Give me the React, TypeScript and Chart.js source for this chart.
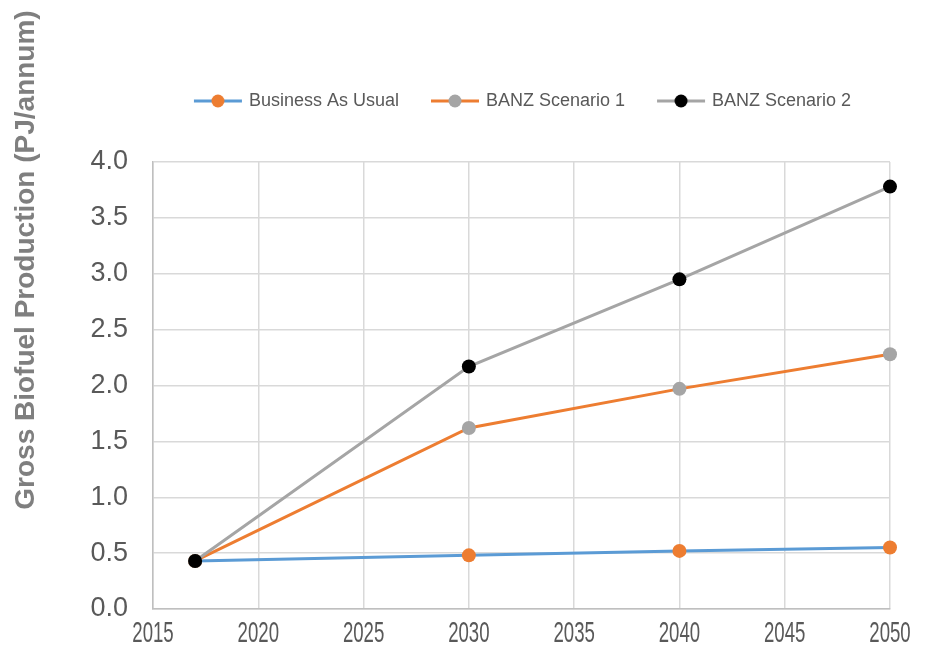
import React, { useEffect, useRef } from "react";
import { Chart, registerables } from "chart.js";

Chart.register(...registerables);

const years = [2017, 2030, 2040, 2050];
const bau = [0.43, 0.48, 0.52, 0.55];
const banz1 = [0.43, 1.62, 1.97, 2.28];
const banz2 = [0.43, 2.17, 2.95, 3.78];
const seriesNames = ["Business As Usual", "BANZ Scenario 1", "BANZ Scenario 2"];
const lineColors = ["#5B9BD5", "#ED7D31", "#A5A5A5"];
const markerColors = ["#ED7D31", "#A5A5A5", "#000000"];
const yTitle = "Gross Biofuel Production (PJ/annum)";

function legendIcon(line: string, marker: string) {
  const c = document.createElement("canvas");
  c.width = 60;
  c.height = 14;
  const ctx = c.getContext("2d")!;
  ctx.strokeStyle = line;
  ctx.lineWidth = 3;
  ctx.beginPath();
  ctx.moveTo(8, 7);
  ctx.lineTo(56, 7);
  ctx.stroke();
  ctx.fillStyle = marker;
  ctx.beginPath();
  ctx.arc(32, 7, 6.5, 0, Math.PI * 2);
  ctx.fill();
  return c;
}

const textPlugin = {
  id: "textPlugin",
  afterDraw(chart: any) {
    const ctx = chart.ctx;
    // y-axis title
    ctx.save();
    ctx.translate(26, 260);
    ctx.rotate(-Math.PI / 2);
    ctx.font = "bold 28px 'Liberation Sans', Arial, sans-serif";
    ctx.fillStyle = "#7F7F7F";
    ctx.textAlign = "center";
    ctx.textBaseline = "middle";
    ctx.fillText(yTitle, 0, 0);
    ctx.restore();
    // x tick labels (condensed, as in the reference)
    const xs = chart.scales.x;
    ctx.save();
    ctx.font = "30px 'Liberation Sans', Arial, sans-serif";
    ctx.fillStyle = "#595959";
    ctx.textAlign = "center";
    ctx.textBaseline = "middle";
    xs.ticks.forEach((t: any) => {
      const px = xs.getPixelForValue(t.value);
      ctx.save();
      ctx.translate(px, xs.top + 25);
      ctx.scale(0.62, 1);
      ctx.fillText(String(t.value), 0, 0);
      ctx.restore();
    });
    ctx.restore();
  },
};

export default function App() {
  const ref = useRef<HTMLCanvasElement>(null);
  useEffect(() => {
    document.body.style.margin = "0";
    const all = [bau, banz1, banz2];
    const icons = seriesNames.map((_, i) => legendIcon(lineColors[i], markerColors[i]));
    const chart = new Chart(ref.current!, {
      type: "line",
      data: {
        datasets: all.map((vals, i) => ({
          label: seriesNames[i],
          data: years.map((y, j) => ({ x: y, y: vals[j] })),
          borderColor: lineColors[i],
          backgroundColor: markerColors[i],
          pointBackgroundColor: markerColors[i],
          pointBorderColor: markerColors[i],
          pointRadius: 7,
          pointBorderWidth: 0,
          borderWidth: 3,
          order: 2 - i,
          tension: 0,
          clip: false,
        })),
      },
      options: {
        animation: false,
        responsive: false,
        layout: { padding: { top: 62, right: 36, left: 0, bottom: 0 } },
        plugins: {
          tooltip: { enabled: false },
          title: {
            display: true,
            text: "",
            font: { size: 10, lineHeight: 1.2 },
            padding: { top: 15, bottom: 15 },
          },
          legend: {
            position: "top",
            fullSize: false,
            weight: 3000,
            labels: {
              usePointStyle: true,
              pointStyleWidth: 48,
              padding: 30,
              color: "#595959",
              font: { family: "'Liberation Sans', Arial, sans-serif", size: 18 },
              generateLabels: () =>
                seriesNames.map((n, i) => ({
                  text: n,
                  pointStyle: icons[i],
                  datasetIndex: i,
                  fillStyle: markerColors[i],
                  strokeStyle: lineColors[i],
                  lineWidth: 0,
                  hidden: false,
                  fontColor: "#595959",
                })),
            },
          },
        },
        scales: {
          x: {
            type: "linear",
            min: 2015,
            max: 2050,
            afterFit: (s: any) => {
              s.height = 49;
            },
            ticks: {
              display: false,
              stepSize: 5,
              callback: (v: any) => String(v),
            },
            grid: { color: "#D9D9D9", lineWidth: 1.5, drawTicks: false },
            border: { color: "#BFBFBF", width: 1.5 },
          },
          y: {
            min: 0,
            max: 4,
            afterFit: (s: any) => {
              s.width = 153;
            },
            ticks: {
              stepSize: 0.5,
              padding: 25,
              color: "#595959",
              font: { family: "'Liberation Sans', Arial, sans-serif", size: 27 },
              callback: (v: any) => Number(v).toFixed(1),
            },
            grid: { color: "#D9D9D9", lineWidth: 1.5, drawTicks: false },
            border: { color: "#BFBFBF", width: 1.5 },
          },
        },
      },
      plugins: [textPlugin],
    });
    return () => chart.destroy();
  }, []);
  return (
    <div style={{ width: 926, height: 658 }}>
      <canvas ref={ref} width={926} height={658} style={{ display: "block" }} />
    </div>
  );
}
